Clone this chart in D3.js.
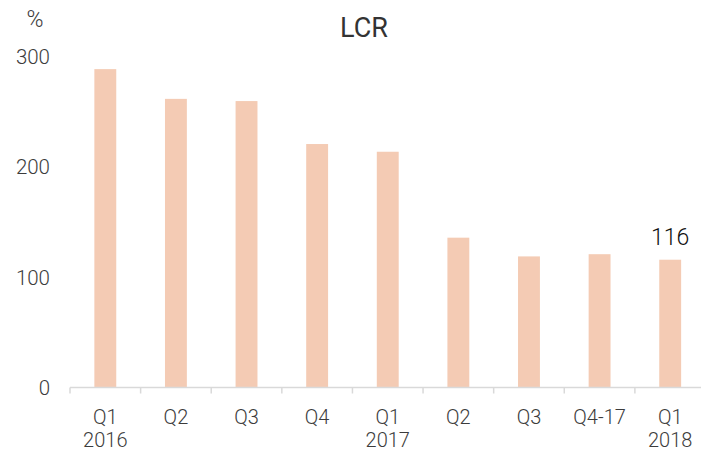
<!DOCTYPE html>
<html>
<head>
<meta charset="utf-8">
<script src="https://cdn.jsdelivr.net/npm/d3@7"></script>
<style>
  html, body { margin: 0; padding: 0; background: #fff; }
  svg { display: block; }
  text { font-family: Roboto, "Liberation Sans", sans-serif; }
</style>
</head>
<body>
<svg id="chart" width="701" height="453"></svg>
<script>
// LCR by quarter, in percent
const quarters = ["Q1", "Q2", "Q3", "Q4", "Q1", "Q2", "Q3", "Q4-17", "Q1"];
const years    = ["2016", "", "", "", "2017", "", "", "", "2018"];
const lcrValues = [289, 262, 260, 221, 214, 136, 119, 121, 116];
const yTicks = [0, 100, 200, 300];
const labelledIndex = 8;

const svg = d3.select("#chart");
const plot = { left: 70, right: 705.5, top: 57, bottom: 387.5 };
const labelColor = "#3c3c3c";

const x = d3.scaleBand()
  .domain(d3.range(quarters.length))
  .range([plot.left, plot.right])
  .paddingInner(0.69)
  .paddingOuter(0.345);

const y = d3.scaleLinear().domain([0, 300]).range([plot.bottom, plot.top]);

// bars
svg.append("g").selectAll("rect")
  .data(lcrValues)
  .join("rect")
  .attr("x", (d, i) => x(i))
  .attr("y", d => y(d))
  .attr("width", x.bandwidth())
  .attr("height", d => y(0) - y(d))
  .attr("fill", "#f4cbb4");

// value label on the latest quarter
svg.append("text")
  .attr("x", x(labelledIndex) + x.bandwidth() / 2)
  .attr("y", y(lcrValues[labelledIndex]) - 23)
  .attr("dy", "0.35em")
  .attr("text-anchor", "middle")
  .attr("font-size", 23)
  .attr("font-weight", 300)
  .attr("fill", "#111")
  .text(lcrValues[labelledIndex]);

// y axis labels (no line)
svg.append("g").selectAll("text")
  .data(yTicks)
  .join("text")
  .attr("x", 50)
  .attr("y", d => y(d))
  .attr("dy", "0.35em")
  .attr("text-anchor", "end")
  .attr("font-size", 20.5)
  .attr("font-weight", 300)
  .attr("fill", labelColor)
  .text(d => d);

// x axis baseline with ticks at band boundaries
const step = x.step();
const boundaries = d3.range(quarters.length + 1).map(i => plot.left + i * step);
const xAxis = svg.append("g");
xAxis.append("line")
  .attr("x1", plot.left).attr("x2", 701)
  .attr("y1", plot.bottom).attr("y2", plot.bottom)
  .attr("stroke", "#d9d9d9").attr("stroke-width", 1.5);
xAxis.selectAll("line.tick")
  .data(boundaries)
  .join("line")
  .attr("class", "tick")
  .attr("x1", d => d).attr("x2", d => d)
  .attr("y1", plot.bottom).attr("y2", plot.bottom + 6)
  .attr("stroke", "#d9d9d9").attr("stroke-width", 1.5);

const cat = xAxis.selectAll("g.cat")
  .data(quarters)
  .join("g")
  .attr("class", "cat")
  .attr("transform", (d, i) => `translate(${x(i) + x.bandwidth() / 2},0)`);
cat.append("text")
  .attr("y", 417)
  .attr("dy", "0.35em")
  .attr("text-anchor", "middle")
  .attr("font-size", 20)
  .attr("font-weight", 300)
  .attr("fill", labelColor)
  .text(d => d);
cat.append("text")
  .attr("y", 440)
  .attr("dy", "0.35em")
  .attr("text-anchor", "middle")
  .attr("font-size", 20)
  .attr("font-weight", 300)
  .attr("fill", labelColor)
  .text((d, i) => years[i]);

// unit and title
svg.append("text")
  .attr("x", 35).attr("y", 19)
  .attr("dy", "0.35em")
  .attr("text-anchor", "middle")
  .attr("font-size", 23)
  .attr("font-weight", 300)
  .attr("fill", labelColor)
  .text("%");

svg.append("text")
  .attr("x", 364).attr("y", 28)
  .attr("dy", "0.35em")
  .attr("text-anchor", "middle")
  .attr("font-size", 27)
  .attr("font-weight", 400)
  .attr("fill", "#333")
  .text("LCR");
</script>
</body>
</html>
